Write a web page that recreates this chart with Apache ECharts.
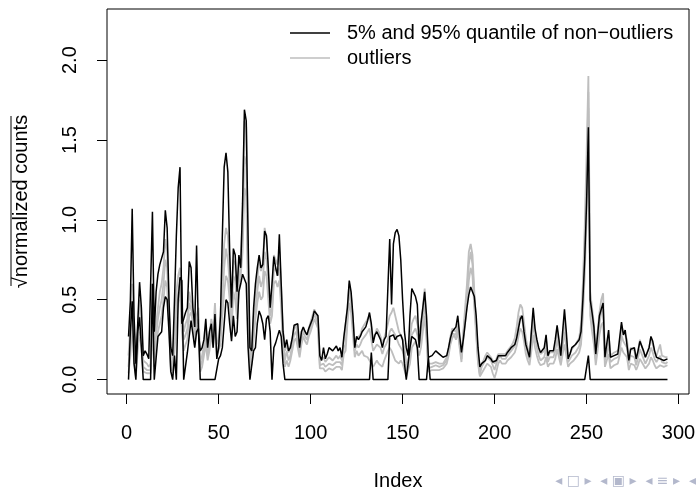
<!DOCTYPE html>
<html>
<head>
<meta charset="utf-8">
<script src="https://cdn.jsdelivr.net/npm/echarts@6/dist/echarts.min.js"></script>
<style>
  html, body { margin: 0; padding: 0; background: #fff; }
  #chart { width: 698px; height: 490px; }
</style>
</head>
<body>
<div id="chart"></div>
<script>
// 95% quantile of non-outliers, index 1..294
const upper = [
  0.27,0.49,1.07,0.40,0.10,0.35,0.61,0.45,0.15,0.18,
  0.16,0.13,0.12,1.05,0.30,0.55,0.66,0.72,0.72,0.80,
  1.06,0.95,0.50,0.20,0.15,0.50,0.90,1.20,1.33,0.35,
  0.38,0.42,0.45,0.74,0.70,0.45,0.33,0.84,0.30,0.18,
  0.20,0.25,0.38,0.20,0.30,0.35,0.20,0.41,0.13,0.20,
  0.40,0.90,1.33,1.42,1.30,0.80,0.45,0.82,0.78,0.55,
  0.78,0.70,1.10,1.69,1.62,0.90,0.20,0.18,0.45,0.60,
  0.70,0.78,0.70,0.72,0.93,0.90,0.70,0.45,0.60,0.77,
  0.70,0.65,0.91,0.60,0.30,0.20,
  0.25,0.18,0.20,0.26,0.34,0.35,0.35,0.20,0.30,0.33,0.30,0.28,0.32,0.35,0.38,0.43,0.42,0.40,0.15,
  0.12,0.20,0.13,0.16,0.20,0.19,0.18,0.17,0.21,0.18,0.20,0.14,
  0.26,0.26,0.45,0.62,0.55,0.40,0.20,0.27,0.25,0.27,0.30,0.30,0.33,0.37,0.42,0.35,0.23,0.28,0.30,0.30,0.25,0.20,0.25,
  0.27,0.28,0.88,0.47,0.85,0.92,0.94,0.90,0.75,0.50,0.30,0.20,0.15,0.40,0.57,0.56,0.52,0.47,0.20,0.35,0.45,0.55,0.40,0.14,
  0.15,0.15,0.16,0.18,0.17,0.16,0.15,0.14,0.13,0.15,0.20,0.26,0.30,0.31,0.33,0.40,0.28,0.17,
  0.25,0.35,0.45,0.53,0.58,0.58,0.52,0.40,0.20,0.08,
  0.10,0.10,0.12,0.15,0.14,0.13,0.11,0.10,0.12,0.15,
  0.16,0.15,0.16,0.15,0.17,0.18,0.20,0.21,0.22,0.26,
  0.32,0.38,0.40,0.30,0.22,0.18,0.14,0.30,0.45,0.32,
  0.25,0.20,0.17,0.18,0.20,0.28,0.15,0.18,0.19,0.18,
  0.25,0.34,0.25,0.15,0.30,0.44,0.30,0.13,0.16,0.20,
  0.21,0.22,0.23,0.25,0.30,0.50,0.75,1.10,
  1.58,0.50,0.42,0.33,0.16,0.28,0.40,0.44,0.48,0.14,
  0.13,0.31,0.14,0.13,0.15,0.15,0.16,0.17,0.36,0.28,
  0.31,0.30,0.12,0.19,0.19,0.20,0.13,0.18,0.24,0.25,
  0.18,0.14,0.14,0.20,0.27,0.24,0.18,0.14,0.15,0.13,
  0.14,0.12,0.13,0.13
];

// 5% quantile of non-outliers
const lower = [
  0,0.30,0.49,0.10,0,0.30,0.39,0.20,0,0,
  0,0,0,0.60,0,0,0.27,0.26,0.30,0.45,
  0.52,0.50,0.30,0.05,0,0.15,0,0.50,0.64,0.62,
  0,0,0.17,0.18,0.37,0.38,0.20,0.30,0.32,0,
  0,0,0,0,0,0,0,0,0,0.13,
  0.15,0.20,0.35,0.50,0.48,0.35,0.24,0.40,0.27,0.30,
  0.55,0.60,0.66,0.65,0.60,0.20,0,0,0.18,0.20,
  0.35,0.43,0.40,0.35,0.25,0.38,0.40,0.30,0,0.20,
  0.23,0.22,0.31,0.27,0.10,0,0,0,0,0,
  0,0,0,0,0,0,0,0,0,0,
  0,0,0,0,0,0,0,0,0,0,
  0,0,0,0,0,0,0,0,0,0,
  0,0,0,0,0,0,0,0,0,0,
  0,0,0.17,0,0,0,0,0,0,0,
  0,0,0.27,0.26,0.28,0.25,0.27,0.26,0.28,0.25,
  0.10,0,0,0.20,0.27,0.27,0.25,0.20,0,0,
  0,0,0,0.14,0,0,0,0,0,0,
  0,0,0,0,0,0,0,0,0,0,
  0,0,0,0,0,0,0,0,0,0,
  0,0,0,0,0,0,0,0,0,0,
  0,0,0,0,0,0,0,0,0,0,
  0,0,0,0,0,0,0,0,0,0,
  0,0,0,0,0,0,0,0,0,0,
  0,0,0,0,0,0,0,0,0,0,
  0,0,0,0,0,0,0,0,0,0,
  0.15,0,0,0,0,0,0,0,0,0,
  0,0,0,0,0,0,0,0,0,0,
  0,0,0,0,0,0,0,0,0,0,
  0,0,0,0,0,0,0,0,0,0,
  0,0,0,0
];

// outlier profiles (grey)
const outlierA = [
  0.15,0.35,0.60,0.30,0.08,0.30,0.50,0.35,0.12,0.12,
  0.10,0.08,0.10,0.60,0.25,0.35,0.45,0.55,0.60,0.70,
  0.88,0.80,0.45,0.12,0.08,0.35,0.55,0.65,0.70,0.40,
  0.30,0.35,0.38,0.55,0.55,0.42,0.28,0.40,0.45,0.12,
  0.15,0.22,0.32,0.18,0.28,0.38,0.30,0.48,0.22,0.25,
  0.40,0.65,0.85,0.95,0.90,0.70,0.45,0.75,0.72,0.50,
  0.72,0.75,1.05,1.62,1.58,0.75,0.15,0.20,0.38,0.55,
  0.62,0.75,0.68,0.72,0.95,0.88,0.65,0.45,0.52,0.78,
  0.78,0.72,0.80,0.58,0.32,0.18,
  0.22,0.17,0.18,0.25,0.32,0.34,0.33,0.20,0.28,0.32,0.30,0.28,0.32,0.36,0.40,0.44,0.43,0.38,0.12,
  0.11,0.14,0.11,0.12,0.14,0.13,0.12,0.12,0.15,0.13,0.15,0.12,
  0.24,0.25,0.45,0.60,0.52,0.38,0.22,0.26,0.26,0.28,0.32,0.34,0.36,0.38,0.40,0.33,0.25,0.28,0.32,0.30,0.27,0.22,0.26,
  0.30,0.35,0.40,0.42,0.45,0.40,0.35,0.30,0.28,0.25,0.20,0.10,0.08,0.25,0.35,0.38,0.40,0.35,0.30,0.35,0.45,0.57,0.35,0.10,
  0.10,0.10,0.11,0.11,0.11,0.10,0.10,0.10,0.11,0.14,0.20,0.27,0.32,0.33,0.30,0.35,0.25,0.15,
  0.30,0.45,0.60,0.80,0.85,0.78,0.55,0.35,0.15,0.05,
  0.10,0.12,0.15,0.17,0.16,0.14,0.12,0.10,0.13,0.16,
  0.17,0.16,0.17,0.16,0.18,0.19,0.21,0.23,0.26,0.33,
  0.42,0.47,0.45,0.36,0.26,0.20,0.16,0.28,0.40,0.30,
  0.24,0.19,0.16,0.17,0.18,0.25,0.14,0.17,0.18,0.17,
  0.22,0.30,0.22,0.15,0.26,0.38,0.25,0.14,0.16,0.19,
  0.20,0.22,0.24,0.26,0.35,0.60,0.95,1.40,
  1.90,0.55,0.45,0.35,0.18,0.30,0.42,0.50,0.54,0.16,
  0.14,0.28,0.15,0.14,0.17,0.18,0.18,0.20,0.34,0.30,
  0.28,0.25,0.14,0.20,0.19,0.18,0.12,0.18,0.25,0.24,
  0.17,0.14,0.15,0.20,0.26,0.22,0.17,0.15,0.16,0.22,
  0.15,0.14,0.14,0.14
];

const outlierB = [
  0.08,0.25,0.45,0.20,0.04,0.25,0.40,0.28,0.08,0.08,
  0.06,0.05,0.06,0.45,0.15,0.28,0.38,0.45,0.50,0.60,
  0.75,0.70,0.40,0.08,0.05,0.25,0.45,0.55,0.62,0.35,
  0.25,0.28,0.32,0.48,0.48,0.40,0.25,0.35,0.38,0.08,
  0.12,0.18,0.28,0.15,0.22,0.32,0.25,0.42,0.18,0.20,
  0.30,0.50,0.70,0.82,0.75,0.60,0.38,0.65,0.62,0.45,
  0.65,0.70,0.90,1.40,1.35,0.60,0.10,0.15,0.30,0.45,
  0.55,0.65,0.58,0.62,0.80,0.75,0.58,0.40,0.45,0.68,
  0.70,0.65,0.70,0.50,0.25,0.12,
  0.18,0.12,0.15,0.22,0.28,0.30,0.30,0.17,0.25,0.30,0.27,0.25,0.30,0.33,0.37,0.41,0.40,0.35,0.09,
  0.08,0.10,0.08,0.09,0.10,0.10,0.09,0.09,0.11,0.10,0.11,0.09,
  0.20,0.22,0.40,0.55,0.48,0.34,0.18,0.22,0.20,0.22,0.25,0.25,0.28,0.30,0.32,0.25,0.18,0.20,0.22,0.22,0.20,0.16,0.20,
  0.22,0.25,0.30,0.32,0.30,0.28,0.25,0.22,0.20,0.18,0.12,0.05,0.04,0.18,0.28,0.30,0.32,0.28,0.22,0.28,0.38,0.48,0.30,0.07,
  0.08,0.08,0.09,0.09,0.08,0.08,0.08,0.09,0.10,0.12,0.17,0.24,0.29,0.30,0.28,0.32,0.22,0.13,
  0.28,0.40,0.55,0.72,0.80,0.72,0.50,0.30,0.12,0.03,
  0.08,0.10,0.12,0.14,0.13,0.12,0.09,0.06,0.10,0.13,
  0.15,0.13,0.14,0.13,0.15,0.16,0.18,0.19,0.21,0.27,
  0.35,0.40,0.38,0.30,0.22,0.16,0.12,0.24,0.35,0.26,
  0.20,0.15,0.12,0.13,0.14,0.20,0.11,0.14,0.15,0.14,
  0.18,0.25,0.18,0.12,0.21,0.30,0.20,0.11,0.13,0.15,
  0.16,0.17,0.19,0.21,0.28,0.50,0.80,1.20,
  1.80,0.48,0.38,0.28,0.13,0.24,0.35,0.42,0.45,0.12,
  0.11,0.22,0.11,0.11,0.13,0.14,0.14,0.16,0.28,0.24,
  0.22,0.20,0.10,0.15,0.15,0.14,0.09,0.14,0.19,0.18,
  0.13,0.10,0.11,0.15,0.20,0.17,0.13,0.11,0.12,0.15,
  0.11,0.10,0.10,0.11
];

const outlierC = [
  0.04,0.15,0.35,0.12,0.02,0.18,0.30,0.20,0.05,0.06,
  0.04,0.03,0.04,0.30,0.08,0.20,0.30,0.35,0.40,0.50,
  0.62,0.58,0.35,0.05,0.03,0.18,0.35,0.48,0.55,0.30,
  0.18,0.22,0.25,0.40,0.42,0.35,0.22,0.32,0.34,0.05,
  0.08,0.15,0.22,0.12,0.18,0.28,0.20,0.35,0.15,0.16,
  0.22,0.40,0.55,0.65,0.62,0.50,0.30,0.55,0.50,0.38,
  0.58,0.65,0.80,1.20,1.15,0.50,0.06,0.10,0.25,0.38,
  0.48,0.55,0.50,0.52,0.68,0.65,0.50,0.35,0.40,0.60,
  0.62,0.58,0.62,0.45,0.20,0.08,
  0.12,0.08,0.12,0.18,0.24,0.26,0.26,0.14,0.22,0.27,0.24,0.22,0.27,0.30,0.34,0.38,0.37,0.32,0.07,
  0.06,0.07,0.05,0.06,0.07,0.07,0.06,0.06,0.08,0.07,0.08,0.06,
  0.16,0.18,0.35,0.48,0.42,0.28,0.14,0.18,0.15,0.16,0.18,0.15,0.15,0.14,0.12,0.10,0.08,0.10,0.12,0.10,0.10,0.08,0.12,
  0.15,0.18,0.20,0.18,0.15,0.12,0.12,0.10,0.12,0.10,0.06,0.02,0.02,0.10,0.20,0.22,0.24,0.20,0.15,0.20,0.30,0.40,0.25,0.05,
  0.05,0.06,0.06,0.06,0.05,0.06,0.06,0.07,0.08,0.10,0.15,0.22,0.26,0.28,0.25,0.30,0.20,0.11,
  0.25,0.35,0.48,0.62,0.70,0.65,0.45,0.28,0.10,0.02,
  0.04,0.06,0.08,0.10,0.09,0.08,0.04,0.01,0.05,0.10,
  0.12,0.10,0.11,0.10,0.12,0.13,0.14,0.15,0.17,0.21,
  0.27,0.32,0.30,0.24,0.16,0.12,0.09,0.18,0.28,0.20,
  0.15,0.11,0.09,0.09,0.10,0.14,0.08,0.10,0.11,0.10,
  0.13,0.19,0.14,0.09,0.16,0.22,0.15,0.08,0.10,0.11,
  0.12,0.13,0.15,0.17,0.22,0.40,0.65,1.00,
  1.70,0.40,0.30,0.22,0.09,0.18,0.28,0.34,0.36,0.08,
  0.07,0.16,0.07,0.07,0.09,0.10,0.10,0.11,0.20,0.17,
  0.16,0.14,0.06,0.10,0.10,0.09,0.06,0.09,0.13,0.12,
  0.09,0.07,0.07,0.10,0.14,0.12,0.09,0.07,0.08,0.09,
  0.08,0.08,0.08,0.09
];

const xTicks = [0, 50, 100, 150, 200, 250, 300];
const yTicks = [0, 0.5, 1.0, 1.5, 2.0];

const quantName = '5% and 95% quantile of non\u2212outliers';
const outName = 'outliers';
const font = 'Liberation Sans, Arial, Helvetica, sans-serif';

const toPoints = (arr) => arr.map((v, i) => [i + 1, v]);

const lineSeries = (name, arr, color, width, z) => ({
  name: name,
  type: 'line',
  data: toPoints(arr),
  symbol: 'none',
  smooth: false,
  silent: true,
  z: z,
  lineStyle: { color: color, width: width },
  itemStyle: { color: color },
})

const chart = echarts.init(document.getElementById('chart'))

const option = {
  animation: false,
  backgroundColor: '#fff',
  textStyle: { fontFamily: font },
  grid: {
    left: 107,
    right: 9,
    top: 9,
    bottom: 96,
    outerBoundsMode: 'none',
    containLabel: false,
    show: true,
    borderColor: '#000',
    borderWidth: 1,
  },
  legend: {
    orient: 'vertical',
    left: 285,
    top: 18,
    icon: 'rect',
    itemWidth: 40,
    itemHeight: 1.6,
    itemGap: 5,
    data: [quantName, outName],
    textStyle: { fontSize: 20, color: '#000', fontFamily: font, padding: [0, 0, 0, 12] },
    selectedMode: false,
  },
  xAxis: {
    type: 'value',
    min: -10.7,
    max: 305.7,
    splitLine: { show: false },
    axisLine: { show: false, onZero: false },
    axisTick: { show: true, length: 10, customValues: xTicks, lineStyle: { color: '#000' } },
    axisLabel: { customValues: xTicks, fontSize: 20, color: '#000', margin: 29, fontFamily: font },
    name: 'Index',
    nameLocation: 'middle',
    nameGap: 77,
    nameTextStyle: { fontSize: 20, color: '#000', fontFamily: font },
  },
  yAxis: {
    type: 'value',
    min: -0.09,
    max: 2.32,
    splitLine: { show: false },
    axisLine: { show: false, onZero: false },
    axisTick: { show: true, length: 10, customValues: yTicks, lineStyle: { color: '#000' } },
    axisLabel: {
      customValues: yTicks,
      fontSize: 20,
      color: '#000',
      rotate: 90,
      margin: 27,
      fontFamily: font,
      formatter: (v) => v.toFixed(1),
    },
    name: '\u221Anormalized counts',
    nameLocation: 'middle',
    nameRotate: 90,
    nameGap: 76,
    nameTextStyle: { fontSize: 20, color: '#000', fontFamily: font },
  },
  graphic: [
    {
      // overbar of the square-root sign in the y title
      type: 'line',
      shape: { x1: 11, y1: 116, x2: 11, y2: 286 },
      style: { stroke: '#000', lineWidth: 1 },
    },
    {
      type: 'text',
      right: 2,
      bottom: 2,
      style: {
        text: '\u25C2 \u25A1 \u25B8  \u25C2 \u25A3 \u25B8  \u25C2 \u2261 \u25B8  \u25C2',
        fill: '#b3b8cc',
        font: '14px DejaVu Sans',
      },
    },
  ],
  series: [
    lineSeries(outName, outlierC, '#bebebe', 1.8, 2),
    lineSeries(outName, outlierB, '#bebebe', 1.8, 2),
    lineSeries(outName, outlierA, '#bebebe', 1.8, 2),
    lineSeries(quantName, lower, '#000', 1.5, 3),
    lineSeries(quantName, upper, '#000', 1.5, 3),
  ],
}

chart.setOption(option)
</script>
</body>
</html>
